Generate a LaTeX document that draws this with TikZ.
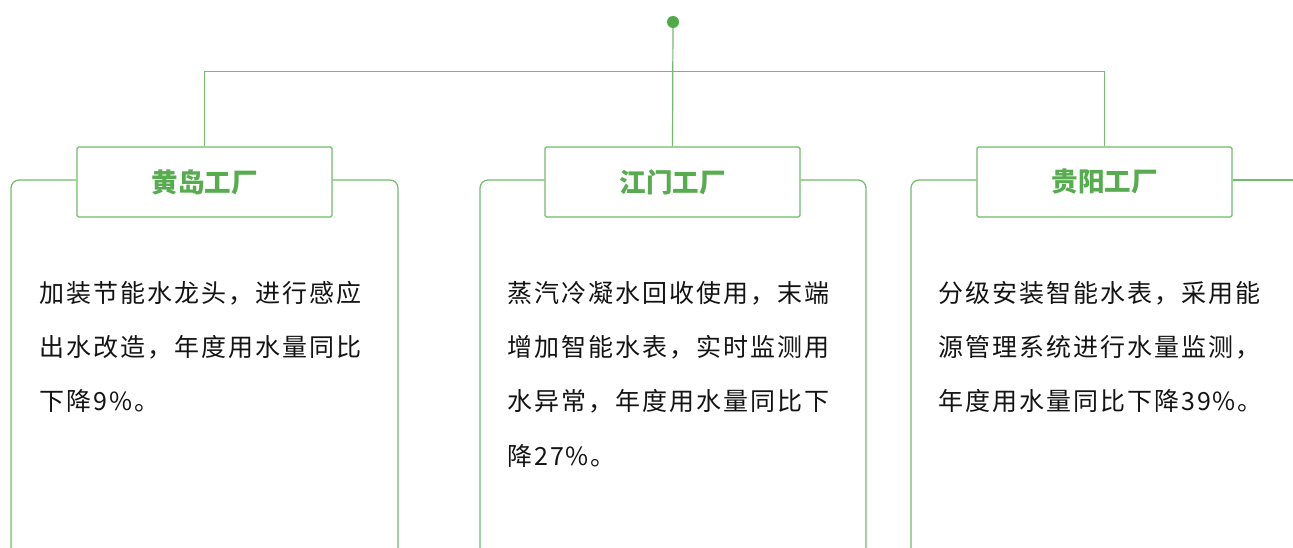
\documentclass[tikz,border=0pt]{standalone}
\usepackage{fontspec}
\setmainfont{Noto Sans CJK SC}
\newfontfamily\bodyfont[LetterSpace=8]{Noto Sans CJK SC}
\newfontfamily\titlefont{Noto Sans CJK SC}
\definecolor{linegreen}{RGB}{112,190,104}
\definecolor{dotgreen}{RGB}{80,170,72}
\definecolor{titlegreen}{RGB}{86,172,78}
\definecolor{bodytext}{RGB}{20,20,20}
\tikzset{
  link/.style={draw=linegreen, line width=1.2pt},
  titlebox/.style={draw=linegreen, line width=1.2pt, rounded corners=1.5pt, fill=white,
    minimum width=255pt, minimum height=70pt, inner sep=0pt,
    font=\titlefont\bfseries\fontsize{26.5}{30}\selectfont, text=titlegreen},
  panel/.style={draw=linegreen, line width=1.2pt, rounded corners=8pt},
  bodyline/.style={anchor=base west, inner sep=0pt, text=bodytext,
    font=\bodyfont\fontsize{25}{30}\selectfont},
}
\begin{document}
\begin{tikzpicture}[x=1pt, y=-1pt]
\clip (0,0) rectangle (1293,548);
\fill[white] (0,0) rectangle (1293,548);

% title boxes
\node[titlebox] (b1) at (204.5,182) {黄岛工厂};
\node[titlebox] (b2) at (672.5,182) {江门工厂};
\node[titlebox] (b3) at (1104.5,182) {贵阳工厂};

% top dot and tree
\node[circle, fill=dotgreen, minimum size=12pt, inner sep=0pt] (dot) at (673,22) {};
\draw[link] (dot) -- (b2.north);
\draw[link] (b1.north) -- ++(0,-75) -| (b3.north);

% panels
\coordinate (p1bl) at (11,560);
\coordinate (p1br) at (398,560);
\coordinate (p2bl) at (480,560);
\coordinate (p2br) at (866,560);
\coordinate (p3bl) at (911,560);
\coordinate (p3r) at (1300,180);
\draw[panel] ([yshift=2pt]b1.west) -| (p1bl);
\draw[panel] ([yshift=2pt]b1.east) -| (p1br);
\draw[panel] ([yshift=2pt]b2.west) -| (p2bl);
\draw[panel] ([yshift=2pt]b2.east) -| (p2br);
\draw[panel] ([yshift=2pt]b3.west) -| (p3bl);
\draw[link] ([yshift=2pt]b3.east) -- (p3r);

% body text
\node[bodyline] (t11) at (39,302) {加装节能水龙头，进行感应};
\node[bodyline] (t12) at (39,356) {出水改造，年度用水量同比};
\node[bodyline] (t13) at (39,410) {下降9\%。};

\node[bodyline] (t21) at (507,302) {蒸汽冷凝水回收使用，末端};
\node[bodyline] (t22) at (507,356) {增加智能水表，实时监测用};
\node[bodyline] (t23) at (507,410) {水异常，年度用水量同比下};
\node[bodyline] (t24) at (507,465) {降27\%。};

\node[bodyline] (t31) at (938,302) {分级安装智能水表，采用能};
\node[bodyline] (t32) at (938,356) {源管理系统进行水量监测，};
\node[bodyline] (t33) at (938,410) {年度用水量同比下降39\%。};
\end{tikzpicture}
\end{document}
